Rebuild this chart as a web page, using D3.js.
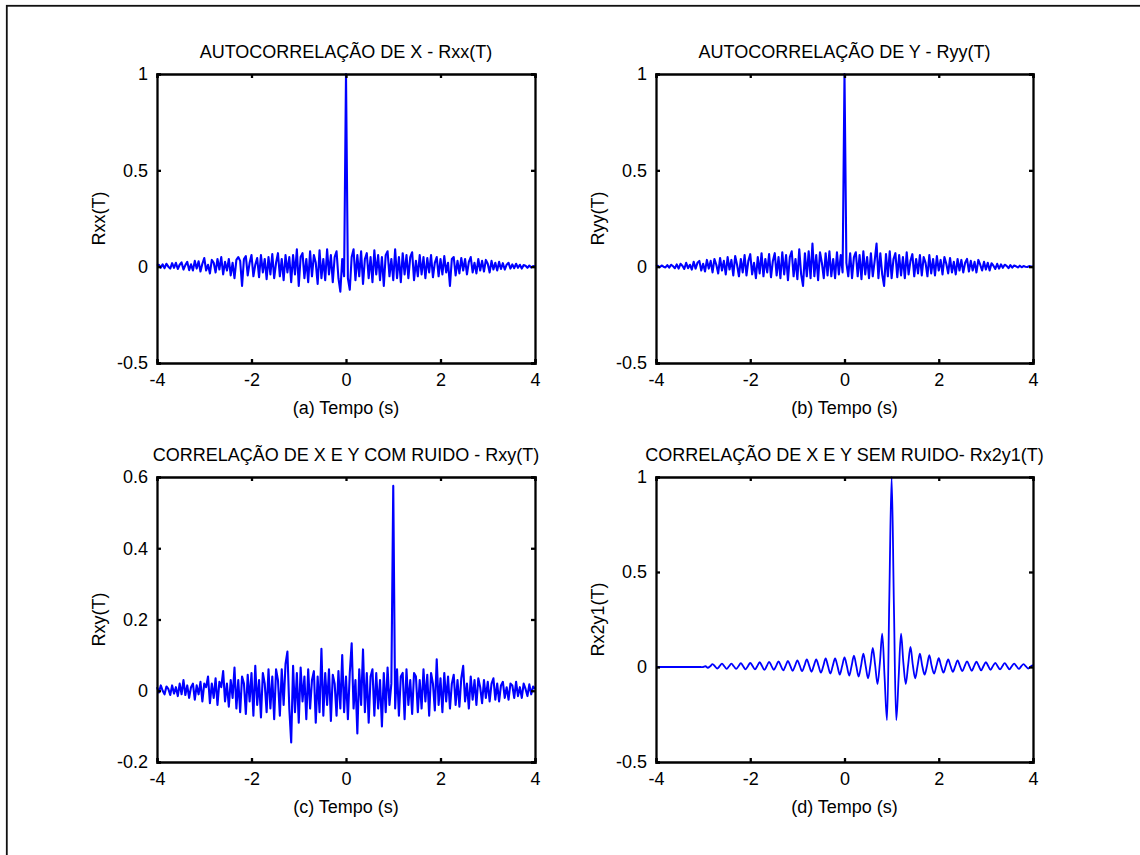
<!DOCTYPE html>
<html lang="pt">
<head>
  <meta charset="UTF-8">
  <title>Correlacoes</title>
  <script src="https://cdn.jsdelivr.net/npm/d3@7/dist/d3.min.js"></script>
  <style>
    body { margin: 0; background: #fff; }
    text { font-family: "Liberation Sans", Arial, sans-serif; font-size: 18px; fill: #000; }
  </style>
</head>
<body>
  <svg id="fig"></svg>
  <script>
    // sample values (lags -4..4 s)
    const rxx = [
      0.005, 0.01, -0.005, 0.012, -0.008, 0.015, 0.0, -0.01, 0.018, -0.006, 0.02, -0.012, 0.01, 0.022, -0.015, 0.008, 0.025, -0.018, 0.012, -0.02,
      0.03, -0.01, 0.028, -0.025, 0.015, 0.045, -0.02, 0.01, -0.035, 0.035, 0.02, -0.03, 0.04, -0.015, 0.05, -0.04, 0.025, -0.02, 0.04, -0.045,
      0.02, -0.06, 0.035, 0.05, 0.03, -0.1, 0.04, 0.055, -0.045, 0.02, 0.06, -0.05, 0.01, 0.045, -0.055, 0.06, -0.03, 0.04, -0.065, 0.05,
      -0.04, 0.065, -0.06, 0.02, 0.07, -0.05, 0.04, -0.07, 0.06, -0.03, 0.05, -0.08, 0.06, -0.04, 0.09, -0.1, 0.05, 0.07, -0.06, 0.04,
      -0.08, 0.08, -0.05, 0.06, 0.02, -0.09, 0.085, -0.06, 0.04, -0.07, 0.09, -0.04, 0.06, -0.08, 0.05, 0.08, -0.06, -0.13, 0.04, -0.05,
      1.0,
      -0.06, -0.12, 0.05, 0.09, -0.07, 0.06, -0.05, 0.08, -0.09, 0.04, 0.07, -0.06, 0.05, -0.08, 0.085, -0.04, 0.06, -0.07, 0.05, -0.1,
      0.06, 0.08, -0.05, 0.04, -0.07, 0.09, -0.06, 0.05, -0.08, 0.07, -0.04, 0.06, -0.06, 0.05, 0.075, -0.07, 0.03, -0.05, 0.06, -0.04,
      0.05, -0.06, 0.045, -0.03, 0.06, -0.055, 0.02, 0.05, -0.05, 0.04, -0.04, 0.055, -0.03, 0.02, -0.1, 0.04, 0.05, -0.045, 0.03, -0.035,
      0.045, -0.02, 0.04, -0.04, 0.025, 0.05, -0.03, 0.02, -0.035, 0.04, -0.02, 0.03, -0.025, 0.035, 0.015, -0.03, 0.03, -0.015, 0.02, -0.02,
      0.025, -0.012, 0.018, -0.015, 0.01, 0.02, -0.01, 0.012, -0.008, 0.015, -0.006, 0.01, -0.01, 0.008, 0.005, -0.006, 0.006, -0.004, 0.003, 0.002
    ];

    const ryy = [
      0.002, 0.005, -0.003, 0.006, 0.0, -0.004, 0.008, -0.005, 0.01, 0.003, -0.008, 0.012, -0.01, 0.015, 0.005, -0.012, 0.02, -0.008, 0.01, -0.015,
      0.025, -0.01, 0.02, 0.03, -0.02, 0.015, -0.025, 0.035, -0.01, 0.03, -0.03, 0.04, 0.01, -0.035, 0.045, -0.02, 0.03, -0.04, 0.05, -0.015,
      0.035, -0.045, 0.055, 0.01, -0.05, 0.04, -0.03, 0.06, -0.045, 0.03, 0.065, -0.04, 0.02, -0.06, 0.05, -0.035, 0.07, -0.05, 0.04, -0.03,
      0.065, -0.055, 0.03, 0.07, -0.045, 0.05, -0.06, 0.075, -0.04, 0.06, -0.07, 0.05, 0.08, -0.05, 0.04, -0.065, 0.09, -0.04, -0.1, 0.07,
      -0.05, 0.08, -0.06, 0.12, -0.05, 0.06, -0.07, 0.075, 0.02, -0.06, 0.07, -0.045, 0.08, -0.05, 0.04, -0.06, 0.075, -0.04, 0.06, -0.03,
      1.0,
      0.02, -0.05, 0.07, -0.06, 0.05, 0.075, -0.05, 0.06, -0.065, 0.08, -0.04, 0.05, -0.06, 0.07, -0.05, 0.03, 0.12, -0.06, 0.07, -0.04,
      -0.1, 0.065, -0.05, 0.08, -0.06, 0.04, 0.07, -0.055, 0.06, -0.045, 0.05, -0.06, 0.075, -0.04, 0.03, 0.065, -0.05, 0.04, -0.035, 0.06,
      -0.045, 0.05, 0.02, -0.05, 0.06, -0.035, 0.04, -0.045, 0.055, -0.02, 0.035, -0.04, 0.05, 0.015, -0.035, 0.045, -0.03, 0.025, -0.04, 0.04,
      -0.02, 0.035, -0.03, 0.02, 0.04, -0.025, 0.03, -0.02, 0.025, -0.03, 0.035, 0.01, -0.02, 0.025, -0.015, 0.02, -0.02, 0.018, 0.005, -0.012,
      0.015, -0.01, 0.012, -0.006, 0.01, 0.004, -0.008, 0.008, -0.005, 0.006, 0.002, -0.004, 0.005, -0.003, 0.003, 0.0, -0.002, 0.003, 0.001, 0.0
    ];

    const rxy = [
      0.01, -0.005, 0.015, 0.0, -0.01, 0.012, 0.005, -0.012, 0.015, -0.008, 0.01, -0.015, 0.02, -0.01, 0.03, -0.012, 0.015, -0.02, 0.01, 0.02,
      -0.025, 0.015, -0.01, 0.025, -0.03, 0.02, 0.01, 0.04, -0.035, 0.02, -0.02, 0.035, -0.04, 0.025, 0.01, 0.055, -0.03, 0.02, -0.045, 0.03,
      -0.02, 0.065, -0.05, 0.03, -0.06, 0.04, 0.02, -0.065, 0.045, -0.03, 0.05, -0.07, 0.07, -0.04, 0.03, -0.075, 0.05, 0.02, -0.06, 0.06,
      -0.05, 0.04, -0.08, 0.06, 0.03, -0.07, 0.06, -0.04, 0.075, 0.11, -0.05, -0.145, 0.07, -0.06, 0.05, -0.09, 0.065, -0.03, 0.04, -0.08,
      0.06, -0.05, 0.03, 0.055, -0.09, 0.04, -0.06, 0.118, -0.07, 0.05, -0.04, 0.06, -0.085, 0.045, 0.02, -0.07, 0.055, -0.05, 0.1, -0.06,
      0.04, -0.08, 0.05, 0.133, -0.05, 0.03, -0.12, 0.06, -0.04, 0.116, -0.06, 0.05, -0.09, 0.04, 0.06, -0.07, 0.05, -0.05, 0.03, -0.1,
      0.05, -0.06, 0.065, -0.04, 0.02, 0.575, -0.05, 0.06, -0.07, 0.04, 0.05, -0.08, 0.06, -0.04, 0.03, -0.065, 0.05, 0.04, -0.06, 0.03,
      -0.05, 0.06, -0.03, 0.045, -0.07, 0.05, 0.02, -0.055, 0.088, -0.04, 0.035, -0.06, 0.05, -0.03, 0.04, -0.05, 0.02, 0.045, -0.04, 0.03,
      -0.045, 0.035, 0.07, -0.03, 0.02, -0.05, 0.04, -0.025, 0.03, -0.04, 0.035, 0.01, -0.035, 0.03, -0.02, 0.025, -0.03, 0.02, 0.035, -0.025,
      0.02, -0.03, 0.015, 0.025, -0.02, 0.01, -0.025, 0.02, 0.015, -0.02, 0.025, -0.015, 0.01, -0.02, 0.02, 0.005, -0.015, 0.018, -0.01, 0.012, 0.005
    ];

    const rx2y1 = [
      0, 0, 0, 0, 0, 0, 0, 0, 0, 0, 0, 0, 0, 0, 0, 0, 0, 0, 0, 0,
      0, 0.004, -0.004, 0.004,
      0.015, 0.004, -0.008, 0.004,
      0.018, 0.004, -0.01, 0.004,
      0.018, 0.004, -0.01, 0.004,
      0.02, 0.004, -0.012, 0.004,
      0.022, 0.005, -0.012, 0.005,
      0.025, 0.005, -0.015, 0.005,
      0.027, 0.006, -0.015, 0.006,
      0.03, 0.006, -0.018, 0.006,
      0.032, 0.006, -0.02, 0.006,
      0.035, 0.007, -0.022, 0.007,
      0.04, 0.007, -0.025, 0.007,
      0.04, 0.005, -0.03, 0.005,
      0.045, 0.005, -0.035, 0.005,
      0.045, 0.005, -0.04, 0.005,
      0.05, 0.005, -0.045, 0.005,
      0.06, 0.005, -0.05, 0.005,
      0.07, 0.005, -0.06, 0.01,
      0.1, 0.01, -0.09, 0.02,
      0.175, -0.05, -0.28, 0.35,
      1.0, 0.3, -0.28, -0.05,
      0.175, 0.02, -0.09, 0.01,
      0.106, 0.01, -0.06, 0.005,
      0.07, 0.005, -0.04, 0.005,
      0.063, 0.005, -0.035, 0.005,
      0.046, 0.005, -0.03, 0.005,
      0.04, 0.005, -0.025, 0.005,
      0.035, 0.005, -0.022, 0.005,
      0.03, 0.005, -0.02, 0.005,
      0.028, 0.005, -0.018, 0.005,
      0.025, 0.005, -0.015, 0.005,
      0.022, 0.004, -0.013, 0.004,
      0.02, 0.004, -0.012, 0.004,
      0.018, 0.004, -0.01, 0.004,
      0.015, 0.003, -0.008, 0.003,
      0.01
    ];

    const lagDomain = [-4, 4];
    const xTicks = [-4, -2, 0, 2, 4];
    const titles = [
      'AUTOCORRELAÇÃO DE X - Rxx(T)',
      'AUTOCORRELAÇÃO DE Y - Ryy(T)',
      'CORRELAÇÃO DE X E Y COM RUIDO - Rxy(T)',
      'CORRELAÇÃO DE X E Y SEM RUIDO- Rx2y1(T)'
    ];
    const xLabels = ['(a) Tempo (s)', '(b) Tempo (s)', '(c) Tempo (s)', '(d) Tempo (s)'];
    const yLabels = ['Rxx(T)', 'Ryy(T)', 'Rxy(T)', 'Rx2y1(T)'];
    const yDomains = [[-0.5, 1], [-0.5, 1], [-0.2, 0.6], [-0.5, 1]];
    const yTicks = [[-0.5, 0, 0.5, 1], [-0.5, 0, 0.5, 1], [-0.2, 0, 0.2, 0.4, 0.6], [-0.5, 0, 0.5, 1]];
    const series = [rxx, ryy, rxy, rx2y1];

    let width = 1140, height = 855;
    let svg = d3.select('#fig').attr('width', width).attr('height', height);

    // figure frame (right and bottom edges fall outside the picture)
    svg.append('rect')
       .attr('x', 6.8).attr('y', 5.8)
       .attr('width', width + 20).attr('height', height + 20)
       .attr('fill', 'none').attr('stroke', '#111').attr('stroke-width', 1.8);

    let panels = [
      { x0: 157, x1: 535, y0: 74, y1: 363 },
      { x0: 656, x1: 1033, y0: 74, y1: 363 },
      { x0: 157, x1: 535, y0: 477, y1: 762 },
      { x0: 656, x1: 1033, y0: 477, y1: 762 }
    ];

    let fmt = d => String(d);
    let tickLen = 4;

    panels.forEach((p, k) => {
      let data = series[k];
      let n = data.length;
      let x = d3.scaleLinear().domain(lagDomain).range([p.x0, p.x1]);
      let y = d3.scaleLinear().domain(yDomains[k]).range([p.y1, p.y0]);
      let g = svg.append('g').attr('class', 'panel');

      // signal
      let line = d3.line()
          .x((d, i) => x(lagDomain[0] + (lagDomain[1] - lagDomain[0]) * i / (n - 1)))
          .y(d => y(d))
          .curve(k === 3 ? d3.curveCatmullRom.alpha(0.5) : d3.curveLinear);
      g.append('path')
       .datum(data)
       .attr('d', line)
       .attr('fill', 'none')
       .attr('stroke', '#0000ff')
       .attr('stroke-width', k === 3 ? 1.8 : 2.1)
       .attr('stroke-linejoin', 'round');

      // axes (box with inward ticks on all sides)
      let axB = d3.axisBottom(x).tickValues(xTicks).tickSize(-tickLen).tickPadding(10).tickFormat(fmt);
      let axT = d3.axisTop(x).tickValues(xTicks).tickSize(-tickLen).tickFormat('');
      let axL = d3.axisLeft(y).tickValues(yTicks[k]).tickSize(-tickLen).tickPadding(9).tickFormat(fmt);
      let axR = d3.axisRight(y).tickValues(yTicks[k]).tickSize(-tickLen).tickFormat('');

      let gb = g.append('g').attr('transform', `translate(0,${p.y1})`).call(axB);
      let gt = g.append('g').attr('transform', `translate(0,${p.y0})`).call(axT);
      let gl = g.append('g').attr('transform', `translate(${p.x0},0)`).call(axL);
      let gr = g.append('g').attr('transform', `translate(${p.x1},0)`).call(axR);

      [gb, gt, gl, gr].forEach(a => {
        a.select('.domain').attr('stroke', '#000').attr('stroke-width', 2.3);
        a.selectAll('.tick line').attr('stroke', '#000').attr('stroke-width', 2.3);
        a.selectAll('.tick text')
         .attr('fill', '#000')
         .style('font-family', '"Liberation Sans", Arial, sans-serif')
         .style('font-size', '18px');
      });

      // title
      g.append('text')
       .attr('x', (p.x0 + p.x1) / 2)
       .attr('y', p.y0 - 16)
       .attr('text-anchor', 'middle')
       .text(titles[k]);

      // x label
      g.append('text')
       .attr('x', (p.x0 + p.x1) / 2)
       .attr('y', p.y1 + 51)
       .attr('text-anchor', 'middle')
       .text(xLabels[k]);

      // y label
      g.append('text')
       .attr('transform', `translate(${p.x0 - 52},${(p.y0 + p.y1) / 2}) rotate(-90)`)
       .attr('text-anchor', 'middle')
       .text(yLabels[k]);
    });
  </script>
</body>
</html>
